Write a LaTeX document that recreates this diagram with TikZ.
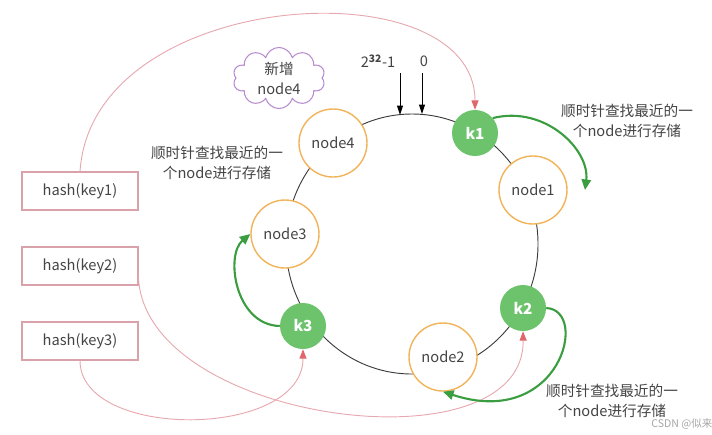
\documentclass[tikz,border=0pt]{standalone}
\usepackage{fontspec}
\setmainfont{Noto Sans CJK SC}
\usetikzlibrary{arrows.meta,shapes.symbols}
\definecolor{ringorange}{HTML}{F2B45A}
\definecolor{keygreen}{HTML}{6CC36C}
\definecolor{arrowgreen}{HTML}{3A9D3F}
\definecolor{linkpink}{HTML}{E7A9B0}
\definecolor{tippink}{HTML}{E0676B}
\definecolor{boxpink}{HTML}{D9A2AA}
\definecolor{cloudpurple}{HTML}{B68BD0}
\definecolor{textgray}{HTML}{444444}
\tikzset{
  server/.style={circle,draw=ringorange,line width=1.2pt,fill=white,minimum size=2.04cm,inner sep=0pt,text=textgray},
  keynode/.style={circle,fill=keygreen,minimum size=1.38cm,inner sep=0pt,text=white,font=\bfseries\fontsize{13}{15}\selectfont},
  hashbox/.style={draw=boxpink,line width=0.9pt,minimum width=3.48cm,minimum height=1.14cm,text=textgray},
  link/.style={draw=linkpink,line width=0.8pt,-{Triangle[length=8pt,width=6pt,color=tippink]}},
  walk/.style={draw=arrowgreen,line width=1.8pt,-{Triangle[length=9pt,width=8pt]}},
  note/.style={text=textgray,align=center,font=\fontsize{12.5}{17}\selectfont}
}
\begin{document}
\begin{tikzpicture}[x=0.03cm,y=-0.03cm,every node/.style={font=\fontsize{12.5}{15}\selectfont}]
  \useasboundingbox (0,0) rectangle (712,434);
  % the hash ring
  \draw[textgray!90!black,line width=0.8pt] (412,244) ellipse [x radius=126,y radius=130];
  \node[server] (node4) at (333,143) {node4};
  \node[server] (node1) at (533,190) {node1};
  \node[server] (node3) at (285,234) {node3};
  \node[server] (node2) at (443,357) {node2};
  \node[keynode] (k1) at (475,133) {k1};
  \node[keynode] (k2) at (523,308) {k2};
  \node[keynode] (k3) at (303,326) {k3};
  % ends of the range
  \node[text=textgray] (maxlbl) at (378,61) {2\textsuperscript{\textbf{32}}-1};
  \node[text=textgray] (zerolbl) at (424,61) {0};
  \coordinate (maxtop) at (400,73);
  \coordinate (maxbot) at (400,115);
  \coordinate (zerotop) at (422,73);
  \coordinate (zerobot) at (422,114);
  \draw[line width=0.8pt,-{Triangle[length=8pt,width=5pt]}] (maxtop) -- (maxbot);
  \draw[line width=0.8pt,-{Triangle[length=8pt,width=5pt]}] (zerotop) -- (zerobot);
  % new server
  \node[cloud,cloud puffs=10,aspect=1.6,draw=cloudpurple,line width=0.9pt,minimum width=2.76cm,minimum height=1.83cm,
        text=textgray,align=center,inner sep=0pt,font=\fontsize{12.5}{17}\selectfont] (newnode) at (279,78) {新增\\node4};
  % keys
  \node[hashbox] (hash1) at (80,191) {hash(key1)};
  \node[hashbox] (hash2) at (80,266) {hash(key2)};
  \node[hashbox] (hash3) at (80,341) {hash(key3)};
  \draw[link] (hash1.north) .. controls +(12,-185) and +(0,-145) .. (k1.north);
  \draw[link] (hash2.-12) .. controls +(8,145) and +(2,140) .. (k2.south);
  \draw[link] (hash3.south) .. controls +(0,80) and +(0,90) .. (k3.south);
  % clockwise lookup
  \coordinate (k1end) at (585,190);
  \draw[walk] (k1.40) .. controls (545,105) and (590,150) .. (k1end);
  \draw[walk] (k3.west) .. controls (235,325) and (225,255) .. (node3.west);
  \draw[walk] (k2.east) .. controls (590,310) and (560,430) .. (node2.south);
  \node[note] (note4) at (217,163) {顺时针查找最近的一\\个node进行存储};
  \node[note] (note1) at (627,121) {顺时针查找最近的一\\个node进行存储};
  \node[note] (note2) at (612,401) {顺时针查找最近的一\\个node进行存储};
  \node[text=gray!70,font=\fontsize{9}{11}\selectfont] (mark) at (682,424) {CSDN @似来};
\end{tikzpicture}
\end{document}
